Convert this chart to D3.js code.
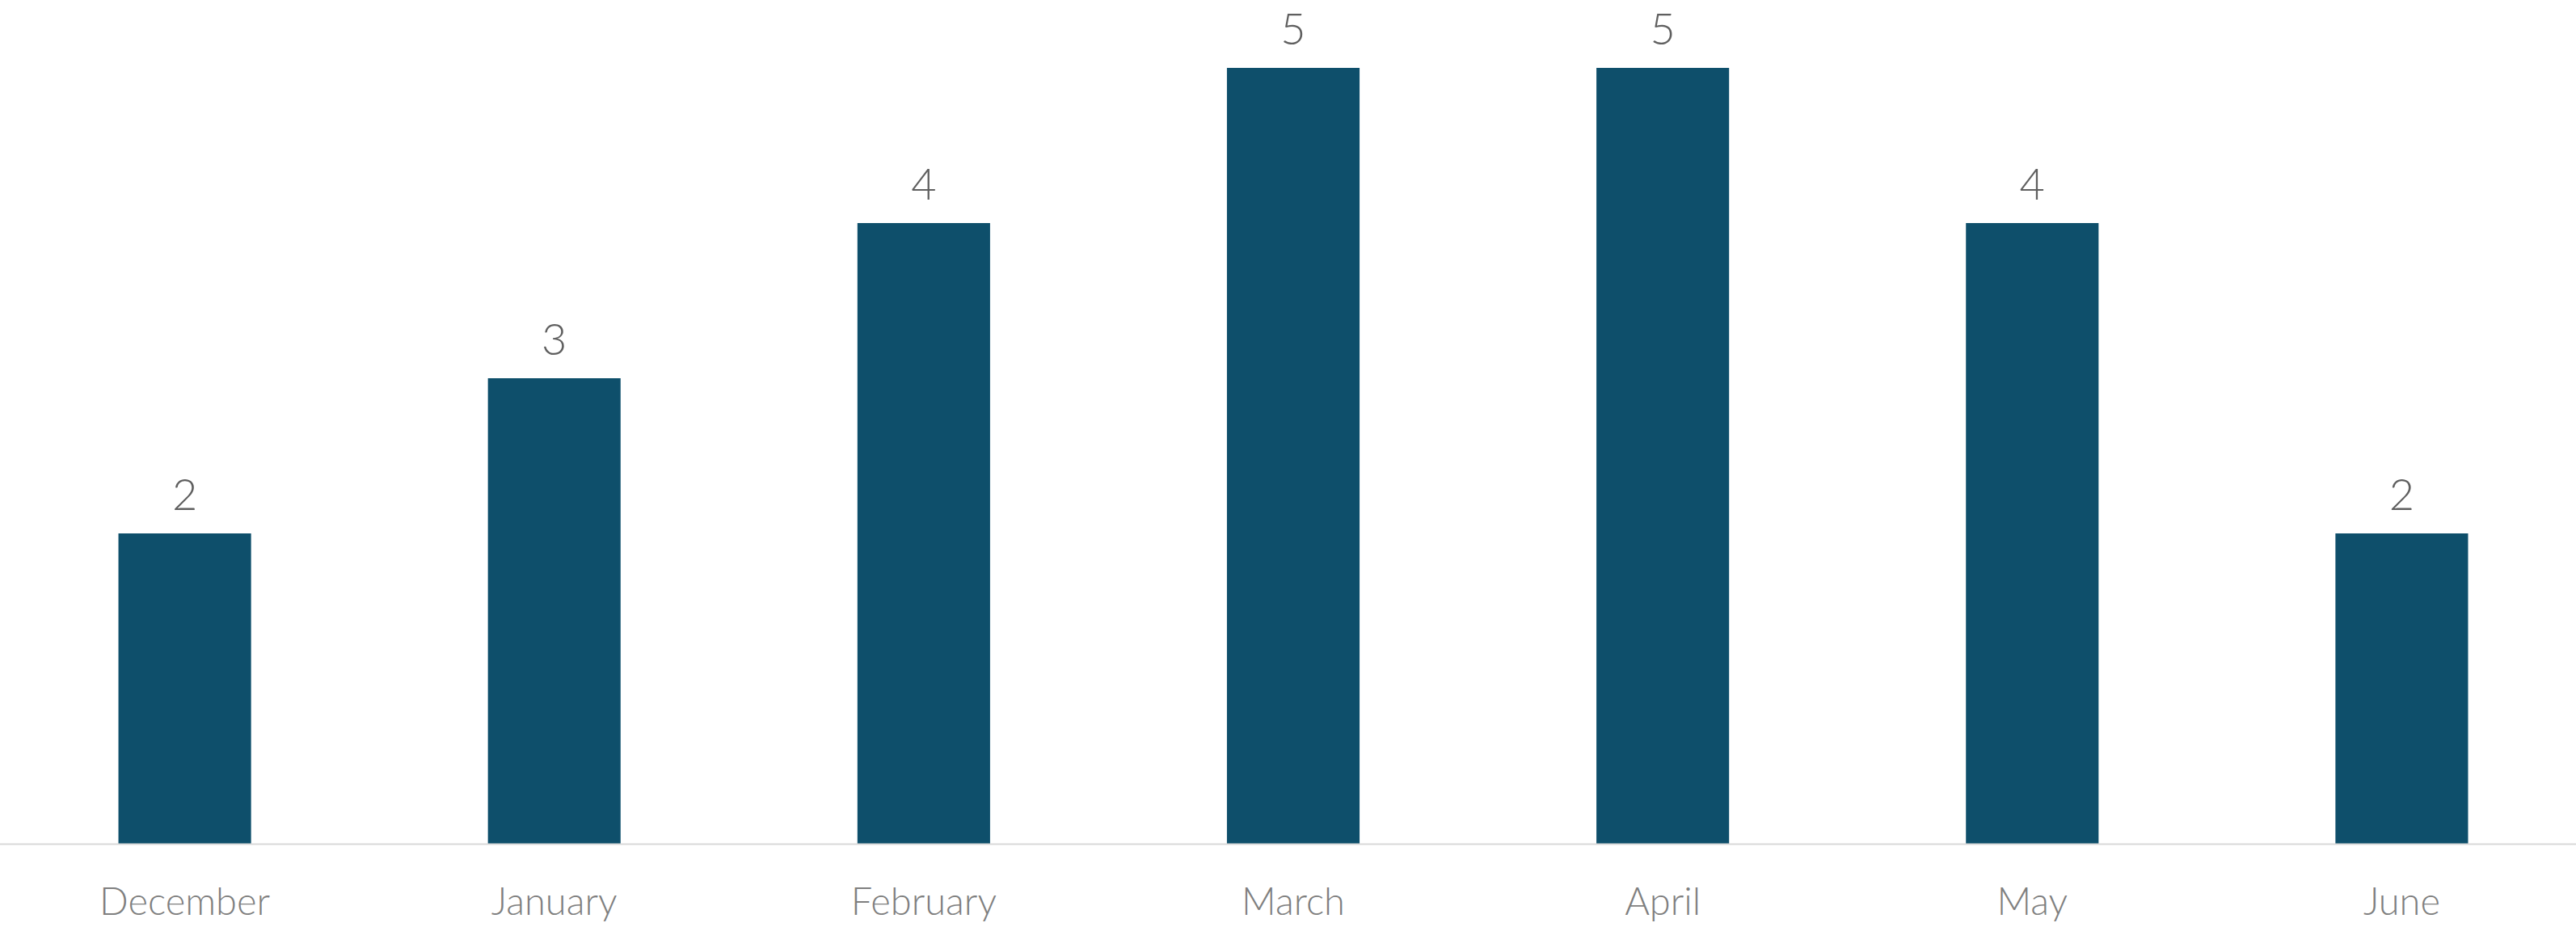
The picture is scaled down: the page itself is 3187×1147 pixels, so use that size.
<!DOCTYPE html>
<html>
<head>
<meta charset="utf-8">
<script src="https://cdn.jsdelivr.net/npm/d3@7"></script>
<style>
  html, body { margin: 0; padding: 0; background: #ffffff; }
  text { font-family: "Lato", "Open Sans", sans-serif; font-weight: 300; }
</style>
</head>
<body>
<div id="chart"></div>
<script>
// chart data
var months = ["December", "January", "February", "March", "April", "May", "June"];
var counts = [2, 3, 4, 5, 5, 4, 2];

var svgWidth = 3187;
var svgHeight = 1147;

var baseline = 1044;
var topY = 84;

var svg = d3.select("#chart")
  .append("svg")
  .attr("width", svgWidth)
  .attr("height", svgHeight);

// scales
var xBandScale = d3.scaleBand()
  .domain(months)
  .range([0, 3200])
  .paddingInner(0.641)
  .paddingOuter(0.3205);

var yLinearScale = d3.scaleLinear()
  .domain([0, 5])
  .range([baseline, topY]);

// bars
svg.append("g").selectAll("rect")
  .data(months)
  .enter()
  .append("rect")
  .attr("x", d => xBandScale(d))
  .attr("y", (d, i) => yLinearScale(counts[i]))
  .attr("width", xBandScale.bandwidth())
  .attr("height", (d, i) => baseline - yLinearScale(counts[i]))
  .attr("fill", "#0e4f6b");

// baseline
svg.append("line")
  .attr("x1", 0)
  .attr("x2", svgWidth)
  .attr("y1", baseline + 0.5)
  .attr("y2", baseline + 0.5)
  .attr("stroke", "#d9d9d9")
  .attr("stroke-width", 2);

// value labels
svg.append("g").selectAll("text")
  .data(months)
  .enter()
  .append("text")
  .attr("x", d => xBandScale(d) + xBandScale.bandwidth() / 2)
  .attr("y", (d, i) => yLinearScale(counts[i]) - 29)
  .attr("text-anchor", "middle")
  .attr("font-size", "54px")
  .attr("fill", "#5f5f5f")
  .text((d, i) => counts[i]);

// category axis labels
var bottomAxis = d3.axisBottom(xBandScale).tickSize(0).tickPadding(0);
var xAxis = svg.append("g")
  .attr("transform", `translate(0, ${baseline})`)
  .call(bottomAxis);
xAxis.select(".domain").remove();
xAxis.selectAll("text")
  .attr("dy", null)
  .attr("y", 88)
  .attr("font-size", "47px")
  .attr("font-family", "Lato, 'Open Sans', sans-serif")
  .attr("fill", "#7f7f7f");
</script>
</body>
</html>
